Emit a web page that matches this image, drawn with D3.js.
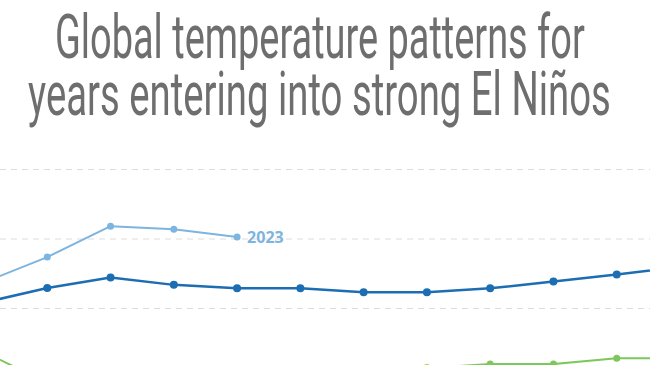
<!DOCTYPE html>
<html>
<head>
<meta charset="utf-8">
<script src="https://cdn.jsdelivr.net/npm/d3@7"></script>
<style>
  html, body { margin: 0; padding: 0; background: #fff; overflow: hidden; }
  svg { display: block; }
</style>
</head>
<body>
<svg id="chart" width="650" height="365"></svg>
<script>
// Months (chart is cropped: Jan and Dec fall just outside the view)
const months = ["Jan","Feb","Mar","Apr","May","Jun","Jul","Aug","Sep","Oct","Nov","Dec"];
const gridValues = [1.0, 1.2, 1.4];

// Temperature anomaly (°C)
const y2023 = [1.075, 1.148, 1.237, 1.228, 1.206];
const yDark = [1.017, 1.059, 1.089, 1.068, 1.058, 1.058, 1.047, 1.047, 1.058, 1.078, 1.098, 1.119];
const yGreen = [0.875, 0.786, 0.788, 0.794, 0.800, 0.808, 0.817, 0.829, 0.840, 0.840, 0.857, 0.857];
const yYellow = [0.70, 0.72, 0.74, 0.76, 0.78, 0.79, 0.81, 0.832, 0.82, 0.81, 0.80, 0.79];

const W = 650, H = 365;
const svg = d3.select("#chart");

// Title (condensed look: squeeze each line horizontally to its width)
const titleLines = [
  { text: "Global temperature patterns for", x0: 55, x1: 585, y: 58 },
  { text: "years entering into strong El Niños", x0: 28, x1: 611, y: 115 }
];
svg.selectAll("text.title").data(titleLines).join("text")
  .attr("class", "title")
  .style("fill", "#6e6e6e").style("font-size", "62px").style("font-weight", 400)
  .style("font-family", "'Liberation Sans Narrow', Roboto, sans-serif")
  .text(d => d.text)
  .attr("transform", function (d) {
    const k = (d.x1 - d.x0) / this.getComputedTextLength();
    return `translate(${d.x0},${d.y}) scale(${k},1)`;
  });

const x = d3.scalePoint().domain(months).range([-16, 680]);
const y = d3.scaleLinear().domain([1.0, 1.4]).range([308.5, 169.5]);

// Gridlines
svg.append("g").selectAll("line").data(gridValues).join("line")
  .attr("x1", 0).attr("x2", W)
  .attr("y1", d => y(d)).attr("y2", d => y(d))
  .attr("stroke", "#dcdcdc").attr("stroke-width", 1)
  .attr("stroke-dasharray", "6,5");

const series = [
  { name: "yellow", values: yYellow, color: "#f1d469", w: 2, r: 3.2 },
  { name: "green", values: yGreen, color: "#7dc75b", w: 2, r: 3.5 },
  { name: "dark", values: yDark, color: "#1d6db3", w: 2.5, r: 4 },
  { name: "2023", values: y2023, color: "#7db4e0", w: 2, r: 3.5 }
];

const line = d3.line()
  .x((d, i) => x(months[i]))
  .y(d => y(d));

const g = svg.append("g");
series.forEach(s => {
  g.append("path")
    .datum(s.values)
    .attr("fill", "none")
    .attr("stroke", s.color)
    .attr("stroke-width", s.w)
    .attr("stroke-linejoin", "round")
    .attr("d", line);
  g.append("g").selectAll("circle").data(s.values).join("circle")
    .attr("cx", (d, i) => x(months[i]))
    .attr("cy", d => y(d))
    .attr("r", s.r)
    .attr("fill", s.color);
});

// 2023 label
const last = y2023.length - 1;
svg.append("text")
  .attr("x", x(months[last]) + 10)
  .attr("y", y(y2023[last]) + 6)
  .style("fill", "#7db4e0").style("font-size", "16px").style("font-weight", 700)
  .style("font-family", "'Open Sans', sans-serif")
  .text("2023");
</script>
</body>
</html>
